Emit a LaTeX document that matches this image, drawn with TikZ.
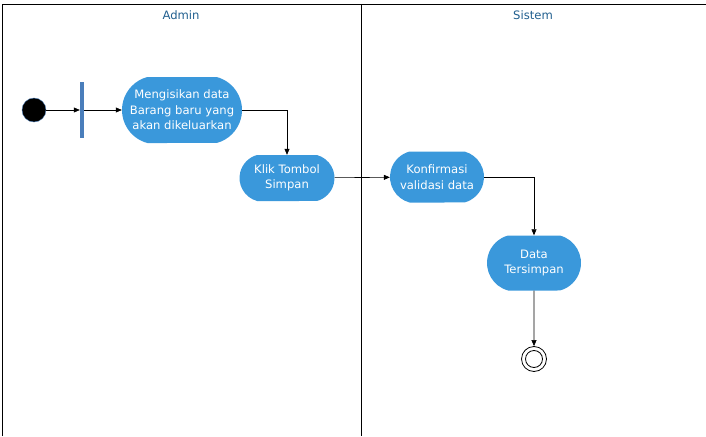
\documentclass[tikz,border=0pt]{standalone}
\usepackage{fontspec}
\setmainfont{DejaVu Sans}
\usetikzlibrary{arrows.meta,shapes.misc}
\definecolor{aksi}{HTML}{3A98DB}
\definecolor{judul}{HTML}{1F5E8E}
\definecolor{garpu}{HTML}{4A7EBB}
\begin{document}
\begin{tikzpicture}[x=1pt, y=-1pt,
  font=\fontsize{11.6}{15.5}\selectfont,
  >={Triangle[length=6pt,width=5pt]}
]
\tikzset{
  aktivitas/.style={rounded rectangle, rounded rectangle arc length=150, fill=aksi, text=white, align=center, inner sep=0pt},
  lajur/.style={draw=black, line width=0.8pt},
  alur/.style={draw=black, ->, line width=0.6pt}
}
\useasboundingbox (0,0) rectangle (706,436);
% lajur (swimlane)
\draw[lajur] (2,436) -- (2,4) -- (706,4) -- (706,436);
\draw[lajur] (361,4) -- (361,436);
\node[text=judul] (admin) at (181,15) {Admin};
\node[text=judul] (sistem) at (533,15) {Sistem};
% node
\node[circle, fill=black, draw=garpu, minimum size=24pt, inner sep=0pt] (mulai) at (34,110) {};
\node[fill=garpu, minimum width=4pt, minimum height=56pt, inner sep=0pt] (bar) at (82,110) {};
\node[aktivitas, minimum width=120pt, minimum height=66pt] (isi) at (182,110) {Mengisikan data\\Barang baru yang\\akan dikeluarkan};
\node[aktivitas, minimum width=95pt, minimum height=46pt] (simpan) at (287,178) {Klik Tombol\\Simpan};
\node[aktivitas, minimum width=94pt, minimum height=51pt] (konfirmasi) at (437,177) {Konfirmasi\\validasi data};
\node[aktivitas, minimum width=94pt, minimum height=55pt] (tersimpan) at (534,263) {Data\\Tersimpan};
\node[circle, draw=black, line width=0.8pt, minimum size=25pt, inner sep=0pt] (selesai) at (534,359) {};
\node[circle, draw=black, line width=0.8pt, minimum size=17pt, inner sep=0pt] at (selesai) {};
% alur
\draw[alur] (mulai) -- (bar);
\draw[alur] (bar) -- (isi);
\draw[alur] (isi.east) -| (simpan.north);
\draw[alur] (simpan) -- (konfirmasi);
\draw[alur] (konfirmasi.east) -| (tersimpan.north);
\draw[alur] (tersimpan) -- (selesai);
\end{tikzpicture}
\end{document}
